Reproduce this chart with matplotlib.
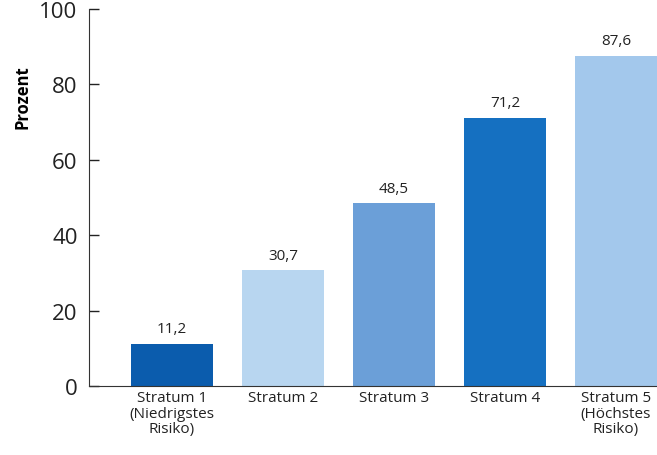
import matplotlib.pyplot as plt
import numpy as np

# data
strata = ['Stratum 1\n(Niedrigstes\nRisiko)', 'Stratum 2', 'Stratum 3', 'Stratum 4',
          'Stratum 5\n(Höchstes\nRisiko)']
werte = [11.2, 30.7, 48.5, 71.2, 87.6]
farben = ['#0b5cad', '#b8d6f0', '#6b9fd8', '#1570c1', '#a3c8ec']

plt.rcParams['font.family'] = ['Open Sans', 'DejaVu Sans']

fig = plt.figure(facecolor='white', figsize=(6.57, 4.56), dpi=100)
ax = fig.add_axes([0.135, 0.151, 0.865, 0.827])

x = np.arange(len(werte))
ax.bar(x, werte, 0.74, color=farben, linewidth=0)

for xi, v in zip(x, werte):
    ax.text(xi, v + 2.0, f'{v:.1f}'.replace('.', ','), ha='center', va='bottom',
            fontsize=11, color='#222222')

ax.set_xlim(-0.75, 4.37)
ax.set_ylim(0, 100)
ax.set_yticks(np.arange(0, 101, 20))
ax.tick_params(axis='y', direction='in', length=7, width=1, labelsize=16,
               colors='#222222', pad=8)
ax.tick_params(axis='x', length=0, labelsize=11, pad=3, colors='#222222')
ax.set_xticks(x)
ax.set_xticklabels(strata, linespacing=1.05)

ax.spines['top'].set_visible(False)
ax.spines['right'].set_visible(False)
ax.spines['left'].set_color('#333333')
ax.spines['bottom'].set_color('#333333')

ax.set_ylabel('Prozent', fontsize=12, fontweight='bold')
ax.yaxis.set_label_coords(-0.1, 0.77)

fig.savefig('out.png', dpi=100)
